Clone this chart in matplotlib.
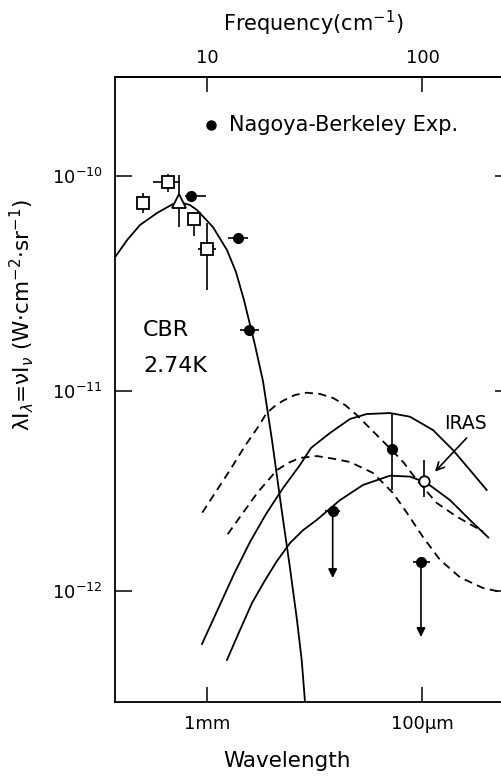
import numpy as np
import matplotlib
matplotlib.use("Agg")
import matplotlib.pyplot as plt
from matplotlib.ticker import NullLocator

# frequency in cm^-1, brightness lambda*I_lambda in W cm^-2 sr^-1

# CBR 2.74 K curve
cbr_nu = [3.78, 4.26, 4.89, 5.86, 6.95, 7.49, 8.34, 8.99, 10.66, 12.38, 13.63,
          14.85, 16.70, 18.19, 20.03, 22.05, 24.28, 26.16, 27.51, 28.50]
cbr_flux = [4.24e-11, 5.03e-11, 5.91e-11, 6.72e-11, 7.40e-11, 7.56e-11, 7.32e-11,
            6.94e-11, 5.78e-11, 4.52e-11, 3.57e-11, 2.64e-11, 1.63e-11, 1.107e-11,
            5.66e-12, 2.68e-12, 1.302e-12, 7.17e-13, 4.53e-13, 2.80e-13]

# dust emission models, solid
solid1_nu = [9.48, 11.25, 13.35, 15.83, 18.79, 22.53, 27.01, 30.39, 37.23, 46.09,
             55.09, 70.68, 87.50, 111.9, 138.5, 166.1, 198.6]
solid1_flux = [5.44e-13, 8.13e-13, 1.216e-12, 1.755e-12, 2.42e-12, 3.26e-12, 4.25e-12,
               5.17e-12, 6.14e-12, 7.21e-12, 7.63e-12, 7.72e-12, 7.40e-12, 6.35e-12,
               5.05e-12, 4.01e-12, 3.19e-12]
solid2_nu = [12.38, 14.23, 16.18, 18.39, 21.13, 24.28, 27.90, 32.28, 41.43, 52.97,
             70.68, 87.50, 104.6, 134.2, 166.1, 202.0]
solid2_flux = [4.53e-13, 6.39e-13, 8.71e-13, 1.109e-12, 1.412e-12, 1.735e-12, 2.01e-12,
               2.26e-12, 2.84e-12, 3.38e-12, 3.76e-12, 3.72e-12, 3.46e-12, 2.84e-12,
               2.26e-12, 1.85e-12]

# dust emission models, dashed
dash1_nu = [9.51, 12.79, 15.01, 17.30, 18.92, 20.68, 22.53, 25.61, 29.01, 33.45,
            38.43, 43.70, 49.51, 61.31, 71.97, 82.08, 93.99, 116.4, 144.1, 190.9]
dash1_flux = [2.46e-12, 4.01e-12, 5.29e-12, 6.60e-12, 7.72e-12, 8.37e-12, 8.89e-12,
              9.50e-12, 9.75e-12, 9.61e-12, 9.18e-12, 8.47e-12, 7.55e-12, 6.00e-12,
              5.05e-12, 4.35e-12, 3.58e-12, 2.75e-12, 2.35e-12, 1.98e-12]
dash2_nu = [12.48, 14.23, 17.25, 21.13, 23.77, 27.01, 32.39, 38.03, 46.09, 58.92,
            65.57, 72.97, 84.75, 100.5, 120.6, 149.3, 190.9, 231.3]
dash2_flux = [1.92e-12, 2.34e-12, 3.12e-12, 4.01e-12, 4.35e-12, 4.61e-12, 4.71e-12,
              4.58e-12, 4.40e-12, 3.88e-12, 3.46e-12, 3.08e-12, 2.45e-12, 1.86e-12,
              1.43e-12, 1.17e-12, 1.035e-12, 9.89e-13]

# other experiments (open squares)
sq_nu = [5.06, 6.57, 8.70, 10.03]
sq_nu_lo = [5.06, 5.62, 8.70, 9.08]
sq_nu_hi = [5.06, 7.49, 8.70, 11.01]
sq_flux = [7.46e-11, 9.35e-11, 6.30e-11, 4.57e-11]
sq_flux_lo = [6.72e-11, 8.42e-11, 5.25e-11, 2.94e-11]
sq_flux_hi = [8.33e-11, 1.022e-10, 6.80e-11, 6.04e-11]

# open triangle
tri_nu = [7.44]
tri_flux = [7.67e-11]
tri_flux_lo = [5.78e-11]
tri_flux_hi = [1.011e-10]

# Nagoya-Berkeley detections
nb_nu = [8.43, 13.88, 15.66, 71.97]
nb_nu_lo = [7.91, 12.51, 14.23, 71.97]
nb_nu_hi = [9.89, 15.50, 17.43, 71.97]
nb_flux = [8.09e-11, 5.12e-11, 1.91e-11, 5.11e-12]
nb_flux_lo = [8.09e-11, 5.12e-11, 1.91e-11, 3.19e-12]
nb_flux_hi = [8.09e-11, 5.12e-11, 1.91e-11, 7.63e-12]

# Nagoya-Berkeley upper limits
ul_nu = [38.31, 98.4]
ul_nu_lo = [35.28, 90.3]
ul_nu_hi = [41.43, 108.3]
ul_flux = [2.51e-12, 1.40e-12]
ul_arrow_end = [1.161e-12, 5.90e-13]

# IRAS
iras_nu = [101.9]
iras_flux = [3.55e-12]
iras_flux_lo = [2.94e-12]
iras_flux_hi = [4.50e-12]

# the decades on the original y axis are not drawn quite equal
LOG_KNOTS = [-15, -12, -11, -10, -7]
POS_KNOTS = [-601.5, 0.0, 200.5, 415.0, 1058.5]


def y_fwd(v):
    with np.errstate(divide="ignore", invalid="ignore"):
        return np.interp(np.log10(np.asarray(v, float)), LOG_KNOTS, POS_KNOTS)


def y_inv(p):
    return 10 ** np.interp(np.asarray(p, float), POS_KNOTS, LOG_KNOTS)


def asym(val, lo, hi):
    val, lo, hi = np.array(val), np.array(lo), np.array(hi)
    return [val - lo, hi - val]


fig = plt.figure(figsize=(5.01, 7.76), dpi=100)
ax = fig.add_axes([0.2301, 0.09536, 0.7918, 0.8054])
ax.set_xscale("log")
ax.set_yscale("function", functions=(y_fwd, y_inv))
ax.set_xlim(10 ** 0.5745, 10 ** 2.4153)
ax.set_ylim(10 ** -12.5536, 10 ** -9.5385)

lw = 1.3
ax.plot(cbr_nu, cbr_flux, color="k", lw=lw)
ax.plot(solid1_nu, solid1_flux, color="k", lw=lw)
ax.plot(solid2_nu, solid2_flux, color="k", lw=lw)
ax.plot(dash1_nu, dash1_flux, color="k", lw=lw, linestyle=(0, (4.5, 3)))
ax.plot(dash2_nu, dash2_flux, color="k", lw=lw, linestyle=(0, (4.5, 3)))

ax.errorbar(sq_nu, sq_flux, xerr=asym(sq_nu, sq_nu_lo, sq_nu_hi),
            yerr=asym(sq_flux, sq_flux_lo, sq_flux_hi), fmt="s", ms=8.5,
            mfc="white", mec="k", mew=1.3, ecolor="k", elinewidth=1.2, capsize=0, zorder=3)
ax.errorbar(tri_nu, tri_flux, yerr=asym(tri_flux, tri_flux_lo, tri_flux_hi), fmt="^",
            ms=9.5, mfc="white", mec="k", mew=1.3, ecolor="k", elinewidth=1.2, capsize=0, zorder=3)
ax.errorbar(nb_nu, nb_flux, xerr=asym(nb_nu, nb_nu_lo, nb_nu_hi),
            yerr=asym(nb_flux, nb_flux_lo, nb_flux_hi), fmt="o", ms=7,
            color="k", ecolor="k", elinewidth=1.2, capsize=0, zorder=3)
ax.errorbar(ul_nu, ul_flux, xerr=asym(ul_nu, ul_nu_lo, ul_nu_hi), fmt="o", ms=7,
            color="k", ecolor="k", elinewidth=1.2, capsize=0, zorder=3)
for nu, f, end in zip(ul_nu, ul_flux, ul_arrow_end):
    ax.annotate("", xy=(nu, end), xytext=(nu, f),
                arrowprops=dict(arrowstyle="-|>", color="k", lw=1.2,
                                mutation_scale=13, shrinkA=0, shrinkB=0))
ax.errorbar(iras_nu, iras_flux, yerr=asym(iras_flux, iras_flux_lo, iras_flux_hi), fmt="o",
            ms=7.5, mfc="white", mec="k", mew=1.3, ecolor="k", elinewidth=1.2, capsize=0, zorder=3)

ax.text(157.5, 6.81e-12, "IRAS", fontsize=13.5, ha="center", va="center")
ax.annotate("", xy=(114.3, 3.94e-12), xytext=(160.4, 5.80e-12),
            arrowprops=dict(arrowstyle="->", color="k", lw=1.2, mutation_scale=14,
                            shrinkA=0, shrinkB=0))

ax.plot([10.4], [1.73e-10], "o", color="k", ms=6.5)
ax.text(12.65, 1.73e-10, "Nagoya-Berkeley Exp.", fontsize=15, ha="left", va="center")
ax.text(5.05, 1.91e-11, "CBR", fontsize=16, ha="left", va="center")
ax.text(5.05, 1.294e-11, "2.74K", fontsize=16, ha="left", va="center")

# ticks
ax.set_xticks([10, 100], ["1mm", "100μm"])
ax.xaxis.set_minor_locator(NullLocator())
ax.set_yticks([1e-12, 1e-11, 1e-10], [r"$10^{-12}$", r"$10^{-11}$", r"$10^{-10}$"])
ax.yaxis.set_minor_locator(NullLocator())
ax.tick_params(axis="x", direction="in", length=11, width=1.1, labelsize=13, pad=9)
ax.tick_params(axis="y", direction="in", length=12, width=1.1, labelsize=13, pad=9,
               right=True)
for s in ax.spines.values():
    s.set_linewidth(1.3)

secax = ax.secondary_xaxis("top")
secax.set_xticks([10, 100], ["10", "100"])
secax.xaxis.set_minor_locator(NullLocator())
secax.tick_params(direction="in", length=11, width=1.1, labelsize=13, pad=7)
secax.spines["top"].set_linewidth(1.3)
secax.set_xlabel("Frequency(cm$^{-1}$)", fontsize=15, labelpad=13)

ax.set_xlabel("Wavelength", fontsize=15.5)
ax.xaxis.set_label_coords(0.4328, -0.078)
ax.set_ylabel(r"λI$_\lambda$=νI$_\nu$ (W·cm$^{-2}$·sr$^{-1}$)", fontsize=15.5)
ax.yaxis.set_label_coords(-0.2, 0.619)

fig.savefig("out.png", dpi=100)
